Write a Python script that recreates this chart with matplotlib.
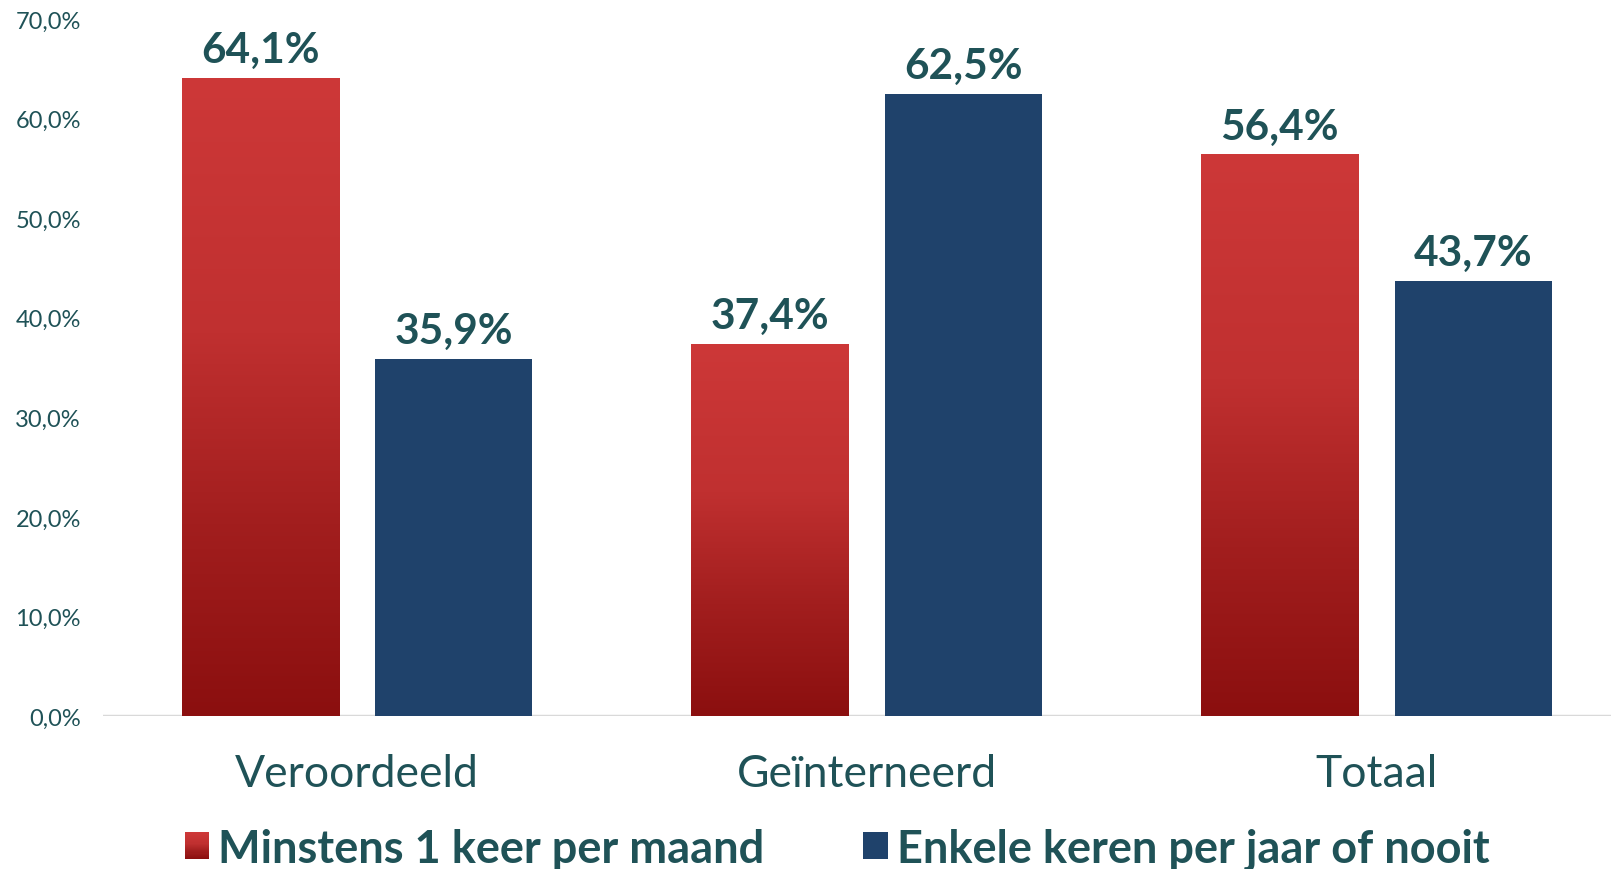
import numpy as np
import matplotlib
import matplotlib.pyplot as plt
from matplotlib.colors import LinearSegmentedColormap
from matplotlib.patches import Rectangle, Patch
from matplotlib.legend_handler import HandlerBase

matplotlib.use('Agg')

categories = ["Veroordeeld", "Geïnterneerd", "Totaal"]
series_names = ["Minstens 1 keer per maand", "Enkele keren per jaar of nooit"]
monthly = [64.1, 37.4, 56.4]
rarely = [35.9, 62.5, 43.7]
y_ticks = [0, 10, 20, 30, 40, 50, 60, 70]

text_color = '#1F5257'
blue = '#1F426B'
red_cmap = LinearSegmentedColormap.from_list(
    'red_grad', [(0.0, '#8B0F0F'), (0.3, '#A21E1E'), (0.6, '#C03030'), (1.0, '#CD3838')])

plt.rcParams['font.family'] = ['Lato', 'DejaVu Sans']


class GradientHandler(HandlerBase):
    def create_artists(self, legend, orig_handle, xdescent, ydescent,
                       width, height, fontsize, trans):
        n = 24
        parts = []
        for i in range(n):
            parts.append(Rectangle((-xdescent, -ydescent + height * i / n), width,
                                   height / n * 1.05, facecolor=red_cmap(i / (n - 1)),
                                   edgecolor='none', transform=trans))
        return parts


def draw_chart():
    fig = plt.figure(figsize=(16.11, 8.70), dpi=100)
    ax = fig.add_axes([103 / 1611, 1 - 717 / 870, 1 - 103 / 1611, 697 / 870])

    x = np.arange(len(categories))
    width = 0.308
    offset = 0.19

    red_bars = ax.bar(x - offset, monthly, width, color='none', zorder=2)
    blue_bars = ax.bar(x + offset, rarely, width, color=blue, zorder=2)

    grad = np.linspace(0, 1, 256).reshape(-1, 1)
    for b in red_bars:
        im = ax.imshow(grad, cmap=red_cmap, origin='lower', aspect='auto',
                       extent=[b.get_x(), b.get_x() + b.get_width(), 0, b.get_height()],
                       zorder=2)
        im.set_clip_path(b)

    # axis line and small shadow under bars
    ax.axhline(0, color='#D9D9D9', lw=2.5, zorder=1)
    for b in list(red_bars) + list(blue_bars):
        ax.hlines(-0.12, b.get_x(), b.get_x() + b.get_width(), color='#7F7F7F', lw=1, zorder=3)

    for bars, vals in ((red_bars, monthly), (blue_bars, rarely)):
        for b, v in zip(bars, vals):
            ax.annotate("{0:.1f}%".format(v).replace('.', ','),
                        (b.get_x() + b.get_width() / 2, v),
                        xytext=(0, 11.5), textcoords='offset points',
                        ha='center', va='baseline', fontsize=30.5, fontweight='bold',
                        color=text_color)

    ax.set_xlim(-0.498, 2.46)
    ax.set_ylim(0, 70)
    ax.set_yticks(y_ticks)
    ax.set_yticklabels(["{0:.1f}%".format(t).replace('.', ',') for t in y_ticks],
                       fontsize=17, color=text_color)
    ax.set_xticks(x)
    ax.set_xticklabels(categories, fontsize=32, color=text_color)
    ax.tick_params(axis='y', length=0, pad=16)
    ax.tick_params(axis='x', length=0, pad=27)
    for s in ax.spines.values():
        s.set_visible(False)

    handles = [Patch(facecolor='#B02828'), Patch(facecolor=blue)]
    fig.legend(handles, series_names, loc='center', bbox_to_anchor=(0.5196, 0.023),
               ncol=2, frameon=False, handler_map={handles[0]: GradientHandler()},
               prop={'size': 32.5, 'weight': 'bold'}, labelcolor=text_color,
               handlelength=0.54, handleheight=0.54, handletextpad=0.2,
               columnspacing=2.2, borderpad=0, borderaxespad=0)

    fig.savefig("out.png", dpi=100)


if __name__ == "__main__":
    draw_chart()
